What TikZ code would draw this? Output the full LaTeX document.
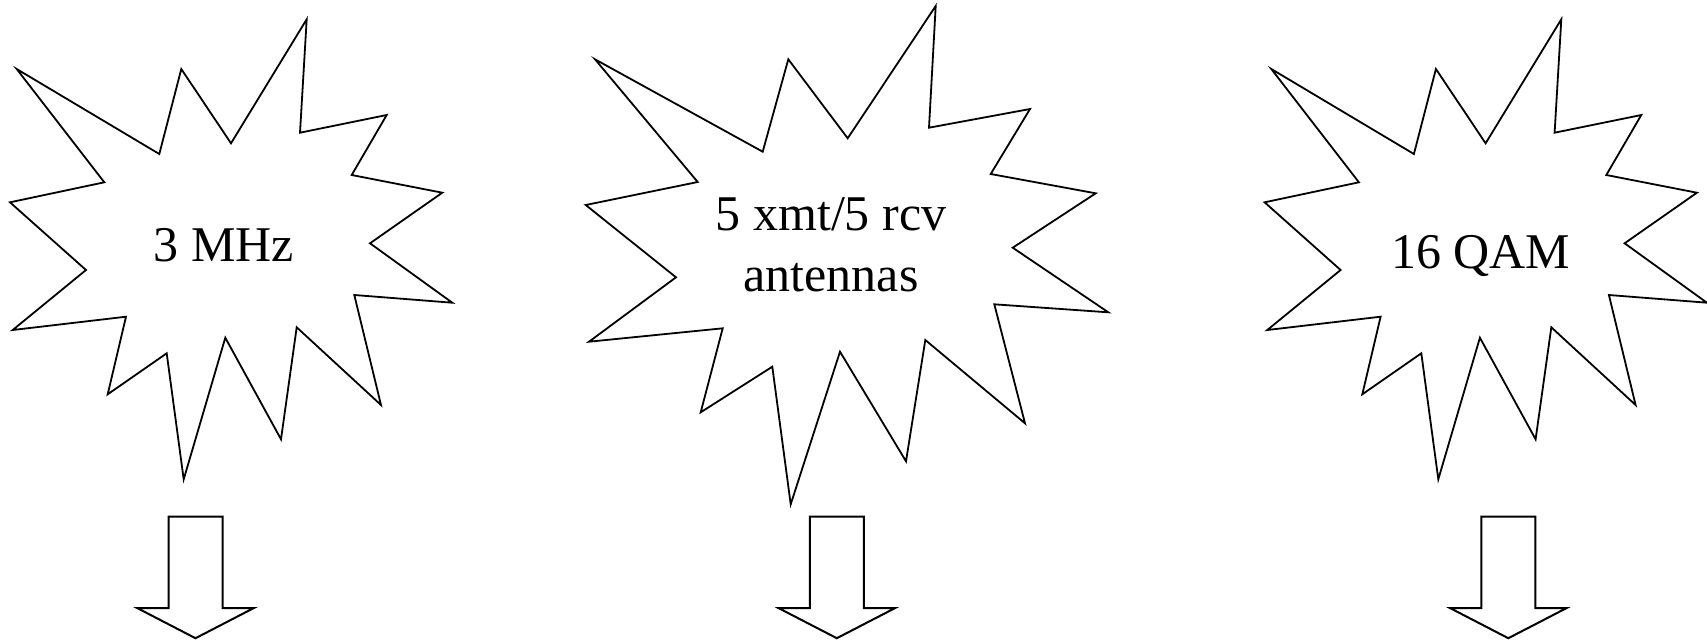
\documentclass[tikz,border=0pt]{standalone}
\usepackage{fontspec}
\setmainfont{Liberation Serif}
\begin{document}
\begin{tikzpicture}[x=1pt,y=-1pt,
  burst/.style={draw=black,line width=1.8pt,line join=miter,fill=white},
  blockarrow/.style={draw=black,line width=2pt,line join=miter,fill=white},
  label/.style={font=\fontsize{50}{61}\selectfont,inner sep=0pt,align=center},
  pics/burstA/.style={code={
    \draw[burst] (16.7,69) -- (159.3,154) -- (181.3,69) -- (231,143.3) -- (306.7,19.3)
      -- (300,132.7) -- (386.7,115) -- (351.7,175) -- (442.3,192.7) -- (370,243.3)
      -- (452.3,302.7) -- (354.3,295) -- (381,405) -- (296.7,327.3) -- (281,439.3)
      -- (225.3,337.7) -- (183.7,479.3) -- (166.7,353.3) -- (107.7,394.3) -- (126,316.7)
      -- (12.7,330) -- (86,270) -- (10,202.3) -- (104.3,182.3) -- cycle;
  }},
  pics/downarrow/.style={code={
    \draw[blockarrow] (-27,0) -- (27,0) -- (27,91.5) -- (58,91.5) -- (0,121.5)
      -- (-58,91.5) -- (-27,91.5) -- cycle;
  }}]
\useasboundingbox (0,0) rectangle (1707,641);

% starbursts
\pic at (0,0) {burstA};
\draw[burst] (595,59.3) -- (762.7,151.7) -- (788.3,59.3) -- (847.7,138.3) -- (935.7,6)
  -- (929,127.7) -- (1030,109) -- (990.7,174) -- (1095.7,193.3) -- (1012.7,247.7)
  -- (1108.3,312.3) -- (994.3,304.3) -- (1025,423.3) -- (925.3,340) -- (906,461.3)
  -- (840,351.7) -- (790.7,504.3) -- (772.3,366.7) -- (700.7,412.3) -- (722.7,328.3)
  -- (589,341.7) -- (676,277.3) -- (585.7,205) -- (697.7,182) -- cycle;
\pic at (1254.6,0) {burstA};

% labels
\node[label,anchor=base] (bw) at (223.7,261.7) {3 MHz};
\node[label,anchor=base] (ant) at (831,291.7) {5 xmt/5 rcv\\antennas};
\node[label,anchor=base] (mod) at (1480.8,268.3) {16 QAM};

% block arrows
\pic at (195.5,516.7) {downarrow};
\pic at (836.8,516.7) {downarrow};
\pic at (1508.3,516.7) {downarrow};
\end{tikzpicture}
\end{document}
